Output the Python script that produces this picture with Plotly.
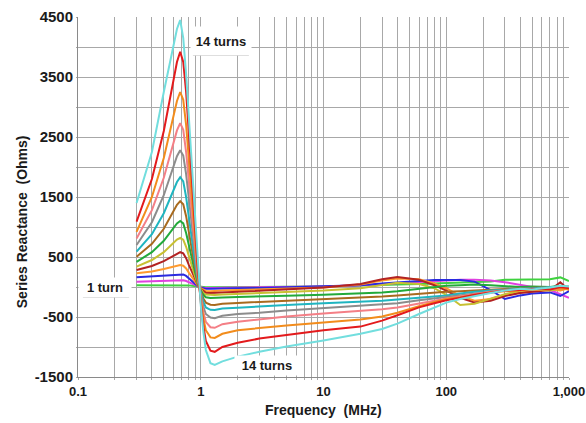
import plotly.graph_objects as go

# Frequency points (MHz)
freq_mhz = [0.3, 0.4, 0.5, 0.6, 0.64, 0.68, 0.72, 0.76, 0.8, 0.85, 0.9, 0.95,
            1.0, 1.05, 1.1, 1.2, 1.3, 1.5, 2, 3, 5, 10, 20, 30, 40, 60, 80, 100,
            130, 170, 230, 300, 400, 500, 700, 850, 1000]

# Series reactance (Ohms) for 1..14 turns
turns_01 = [30, 30, 32, 33, 33, 33, 32, 30, 27, 20, 12, 3, -3, -5, -5, -5, -5, -5, -5, 0, 5, 10, 20, 30, 40, 50, 60, 70, 80, 85, 90, 120, 125, 125, 130, 160, 100]
turns_02 = [88, 95, 105, 113, 116, 117, 112, 100, 80, 55, 28, 5, -5, -12, -15, -15, -15, -12, -10, -5, 0, 10, 30, 50, 65, 90, 105, 115, 120, 120, 110, 80, 40, 0, -50, -120, -180]
turns_03 = [162, 180, 195, 210, 215, 217, 210, 185, 145, 100, 50, 10, -10, -25, -30, -30, -30, -25, -20, -15, -5, 5, 30, 60, 80, 100, 115, 120, 115, 90, -50, -200, -140, -110, -90, -150, -70]
turns_04 = [228, 260, 300, 340, 360, 367, 355, 310, 240, 160, 80, 20, -20, -50, -65, -70, -70, -60, -50, -40, -25, -10, 40, 110, 140, 130, 60, -20, -150, -230, -200, -130, -90, -70, -40, -60, -20]
turns_05 = [283, 350, 430, 520, 560, 580, 560, 480, 370, 240, 120, 30, -30, -70, -95, -100, -100, -90, -80, -60, -40, -10, 50, 130, 165, 120, 30, -60, -180, -260, -230, -150, -100, -80, -50, 80, -50]
turns_06 = [340, 450, 580, 730, 790, 820, 790, 670, 510, 330, 170, 40, -40, -100, -125, -135, -135, -125, -115, -100, -80, -60, -20, 30, 70, 50, -20, -130, -300, -280, -200, -120, -60, -40, -60, -30, -10]
turns_07 = [420, 580, 770, 970, 1060, 1100, 1060, 900, 690, 450, 240, 50, -60, -130, -170, -185, -185, -175, -165, -160, -145, -130, -110, -90, -70, -30, 0, 20, 30, 40, 30, 10, 0, 10, 0, 20, 0]
turns_08 = [505, 720, 970, 1250, 1370, 1430, 1380, 1180, 900, 590, 310, 70, -80, -190, -260, -295, -300, -280, -265, -250, -225, -200, -180, -160, -140, -110, -90, -80, -70, -60, -50, -30, -20, -10, 0, -10, 10]
turns_09 = [590, 880, 1230, 1600, 1750, 1830, 1760, 1500, 1150, 750, 400, 90, -100, -250, -340, -380, -385, -360, -345, -330, -300, -270, -250, -230, -210, -180, -160, -140, -110, -80, -60, -40, -30, -20, 0, 10, 0]
turns_10 = [700, 1080, 1530, 2000, 2180, 2280, 2190, 1880, 1450, 950, 500, 120, -130, -330, -450, -510, -520, -480, -450, -430, -390, -350, -320, -290, -270, -220, -190, -160, -130, -100, -70, -50, -40, -30, -20, -10, -20]
turns_11 = [810, 1280, 1820, 2400, 2610, 2730, 2620, 2250, 1750, 1150, 620, 150, -170, -420, -580, -670, -680, -620, -580, -540, -490, -440, -400, -370, -340, -280, -230, -190, -160, -120, -80, -60, -40, -50, -20, -30, 0]
turns_12 = [920, 1500, 2150, 2850, 3100, 3250, 3120, 2700, 2100, 1400, 780, 200, -200, -520, -720, -840, -850, -780, -720, -680, -640, -590, -540, -490, -430, -320, -250, -200, -170, -130, -90, -70, -60, -50, -30, -20, -40]
turns_13 = [1090, 1800, 2600, 3450, 3750, 3920, 3750, 3250, 2550, 1700, 950, 250, -250, -650, -900, -1060, -1080, -1000, -930, -860, -800, -720, -660, -560, -470, -340, -270, -220, -180, -130, -90, -60, -50, -30, -40, 0, -20]
turns_14 = [1400, 2250, 3250, 4000, 4300, 4450, 4150, 3550, 2850, 1950, 1150, 350, -300, -750, -1050, -1270, -1300, -1240, -1160, -1080, -990, -890, -780, -700, -610, -450, -340, -260, -200, -150, -100, -60, -30, -40, -10, 20, 10]

series_names = ["1 turn"] + [f"{n} turns" for n in range(2, 15)]
series_values = [turns_01, turns_02, turns_03, turns_04, turns_05, turns_06, turns_07,
                 turns_08, turns_09, turns_10, turns_11, turns_12, turns_13, turns_14]
series_colors = ["#3fd23f", "#e040e0", "#2a2ae0", "#ff9a2e", "#b22222", "#c8c032", "#22aa3a",
                 "#a86a1e", "#1fb5c0", "#8c8c8c", "#f47f86", "#f28c1c", "#e31a1c", "#72dede"]

# Axis ticks
x_tick_vals = [m * 10 ** e for e in range(-1, 3) for m in range(1, 10)] + [1000]
x_tick_text = {0.1: "0.1", 1: "1", 10: "10", 100: "100", 1000: "1,000"}
y_tick_vals = list(range(-1500, 4501, 500))
y_tick_labels = [-1500, -500, 500, 1500, 2500, 3500, 4500]

fig = go.Figure()
for name, vals, col in zip(series_names, series_values, series_colors):
    fig.add_trace(go.Scatter(x=freq_mhz, y=vals, mode="lines", name=name,
                             line=dict(color=col, width=2)))

grid = "#a8a8a8"
fig.update_layout(
    width=586, height=423,
    margin=dict(l=78, r=17, t=17, b=46),
    paper_bgcolor="white", plot_bgcolor="white",
    showlegend=False,
    font=dict(family="Liberation Sans, Arial, sans-serif", color="#1a1a1a"),
)
fig.update_xaxes(
    type="log", range=[-1, 3], automargin=False,
    tickmode="array", tickvals=x_tick_vals,
    ticktext=[x_tick_text.get(round(v, 6), "") for v in x_tick_vals],
    showgrid=True, gridcolor=grid, gridwidth=1,
    ticks="outside", ticklen=2, tickcolor=grid,
    showline=True, linecolor="#8a8a8a", linewidth=1,
    zeroline=False,
    tickfont=dict(size=13, weight="bold"),
)
fig.update_yaxes(
    range=[-1500, 4500], automargin=False,
    tickmode="array", tickvals=y_tick_vals,
    ticktext=[str(v) if v in y_tick_labels else "" for v in y_tick_vals],
    showgrid=True, gridcolor=grid, gridwidth=1,
    ticks="outside", ticklen=1, tickcolor=grid,
    showline=True, linecolor="#8a8a8a", linewidth=1,
    zeroline=False,
    tickfont=dict(size=15, weight="bold"),
)

title_font = dict(size=14, weight="bold", color="#1a1a1a")
label_font = dict(size=13, weight="bold", color="#1a1a1a")
fig.add_annotation(text="Frequency\u00a0 (MHz)", xref="paper", yref="paper",
                   x=0.501, y=-0.0917, showarrow=False, font=title_font,
                   xanchor="center", yanchor="middle")
fig.add_annotation(text="Series Reactance\u00a0 (Ohms)", xref="paper", yref="paper",
                   x=-0.114, y=0.43, showarrow=False, textangle=-90, font=title_font,
                   xanchor="center", yanchor="middle")
fig.add_annotation(text="14 turns", xref="paper", yref="paper", x=0.291, y=0.934,
                   showarrow=False, font=label_font, bgcolor="white",
                   width=58, height=26, xanchor="center", yanchor="middle")
fig.add_annotation(text="1 turn", xref="paper", yref="paper", x=0.055, y=0.25,
                   showarrow=False, font=label_font, bgcolor="white",
                   width=50, height=17, xanchor="center", yanchor="middle")
fig.add_annotation(text="14 turns", xref="paper", yref="paper", x=0.385, y=0.031,
                   showarrow=False, font=label_font, bgcolor="white",
                   width=62, height=17, xanchor="center", yanchor="middle")
fig.add_shape(type="line", xref="paper", yref="paper", x0=0.234, x1=0.348, y0=0.894, y1=0.894,
              line=dict(color="#999999", width=1))
fig.add_shape(type="line", xref="paper", yref="paper", x0=0.010, x1=0.104, y0=0.222, y1=0.222,
              line=dict(color="#999999", width=1))

# remove the default page margin so the 586x423 figure fills the window exactly
fig.write_html("out.html",
               config={"displayModeBar": False},
               post_script="document.body.style.margin='0';document.body.style.overflow='hidden';")
